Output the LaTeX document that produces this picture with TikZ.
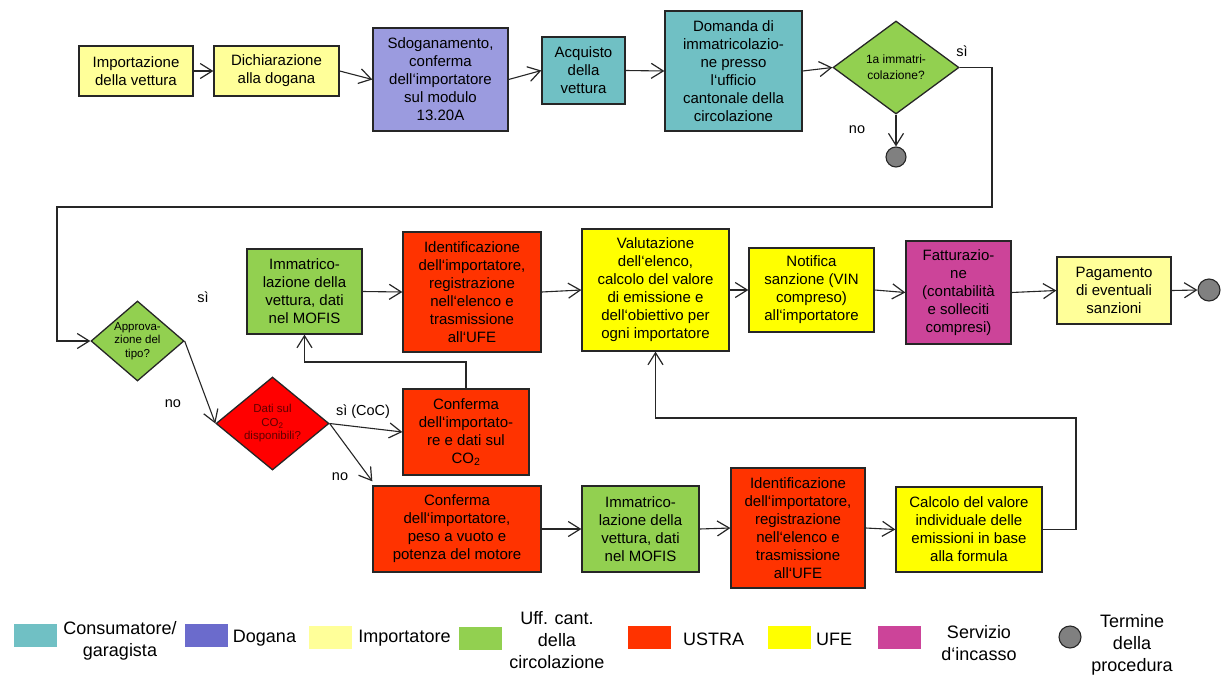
\documentclass[tikz,border=0pt]{standalone}
\usepackage{fontspec}
\setmainfont{Liberation Sans}
\usetikzlibrary{arrows.meta,shapes.geometric}
\definecolor{cLY}{HTML}{FFFF99}
\definecolor{cPU}{HTML}{9B9BDF}
\definecolor{cPUL}{HTML}{6B6BCC}
\definecolor{cTE}{HTML}{70C0C4}
\definecolor{cGR}{HTML}{92D050}
\definecolor{cOR}{HTML}{FF3300}
\definecolor{cRD}{HTML}{FF0000}
\definecolor{cYE}{HTML}{FFFF00}
\definecolor{cMA}{HTML}{CC4499}
\definecolor{cGY}{HTML}{808080}
\definecolor{cLN}{HTML}{262626}
\definecolor{cDT}{HTML}{600000}
\begin{document}
\begin{tikzpicture}[x=1pt,y=-1pt,
 box/.style={draw=cLN, line width=1.3pt, align=center, inner sep=0pt, font=\fontsize{15}{18}\selectfont},
 dia/.style={diamond, draw=cLN, line width=1.3pt, inner sep=0pt},
 dtext/.style={align=center, font=\fontsize{11.5}{13.5}\selectfont},
 arr/.style={-{Straight Barb[length=12pt,width=15pt,line width=1.2pt]}, line width=1.1pt, draw=cLN},
 lab/.style={font=\fontsize{14.5}{17}\selectfont},
 legbox/.style={minimum width=43pt, minimum height=23pt, inner sep=0pt},
 legtxt/.style={align=center, font=\fontsize{18}{22}\selectfont},
 term/.style={circle, draw=cLN, line width=1.1pt, fill=cGY, inner sep=0pt, minimum size=21pt}]
\useasboundingbox (0,0) rectangle (1224,675);

% top row
\node[box, fill=cLY, minimum width=114pt, minimum height=50pt] (imp) at (136,71) {Importazione\\della vettura};
\node[box, fill=cLY, minimum width=125pt, minimum height=50pt] (dich) at (276.5,71) {Dichiarazione\\alla dogana};
\node[box, fill=cPU, minimum width=135pt, minimum height=103pt] (sdog) at (440.5,79.5) {Sdoganamento,\\conferma\\dell‘importatore\\sul modulo\\13.20A};
\node[box, fill=cTE, minimum width=83pt, minimum height=67pt] (acq) at (583.5,70.5) {Acquisto\\della\\vettura};
\node[box, fill=cTE, minimum width=137pt, minimum height=120pt] (dom) at (733.5,71) {Domanda di\\immatricolazio-\\ne presso\\l‘ufficio\\cantonale della\\circolazione};
\node[dia, fill=cGR, minimum width=126pt, minimum height=93pt] (d1) at (896,67.5) {};
\node[align=center, font=\fontsize{12}{16}\selectfont] (d1t) at (d1) {1a immatri-\\colazione?};
\node[term, minimum size=20pt] (end1) at (896,157) {};

% middle row
\node[dia, fill=cGR, minimum width=93pt, minimum height=80pt] (appr) at (137.5,341) {};
\node[dtext] (apprt) at (appr) {Approva-\\zione del\\tipo?};
\node[box, fill=cGR, minimum width=115pt, minimum height=85pt] (imm1) at (304.5,291.5) {Immatrico-\\lazione della\\vettura, dati\\nel MOFIS};
\node[box, fill=cOR, minimum width=138pt, minimum height=120pt] (id1) at (472,292) {Identificazione\\dell‘importatore,\\registrazione\\nell‘elenco e\\trasmissione\\all‘UFE};
\node[box, fill=cYE, minimum width=147pt, minimum height=122pt] (val) at (655.5,290) {Valutazione\\dell‘elenco,\\calcolo del valore\\di emissione e\\dell‘obiettivo per\\ogni importatore};
\node[box, fill=cYE, minimum width=125pt, minimum height=84pt] (notif) at (811.5,290) {Notifica\\sanzione (VIN\\compreso)\\all‘importatore};
\node[box, fill=cMA, minimum width=105pt, minimum height=103pt] (fat) at (958.5,292.5) {Fatturazio-\\ne\\(contabilità\\e solleciti\\compresi)};
\node[box, fill=cLY, minimum width=114pt, minimum height=67pt] (pag) at (1114,290.5) {Pagamento\\di eventuali\\sanzioni};
\node[term, minimum size=22pt] (end2) at (1209,290) {};

% lower rows
\node[dia, fill=cRD, minimum width=113pt, minimum height=93pt] (dati) at (272.5,423.5) {};
\node[dtext, text=cDT] (datit) at (dati) {Dati sul\\CO\textsubscript{2}\\disponibili?};
\node[box, fill=cOR, minimum width=126pt, minimum height=86pt] (cco2) at (466,432) {Conferma\\dell‘importato-\\re e dati sul\\CO\textsubscript{2}};
\node[box, fill=cOR, minimum width=168pt, minimum height=86pt] (cpeso) at (457,529) {Conferma\\dell‘importatore,\\peso a vuoto e\\potenza del motore};
\node[box, fill=cGR, minimum width=117pt, minimum height=86pt] (imm2) at (640.5,529) {Immatrico-\\lazione della\\vettura, dati\\nel MOFIS};
\node[box, fill=cOR, minimum width=134pt, minimum height=120pt] (id2) at (798,528) {Identificazione\\dell‘importatore,\\registrazione\\nell‘elenco e\\trasmissione\\all‘UFE};
\node[box, fill=cYE, minimum width=146pt, minimum height=85pt] (calc) at (969,529.5) {Calcolo del valore\\individuale delle\\emissioni in base\\alla formula};

% labels
\node[lab] (lsi1) at (962,51) {sì};
\node[lab] (lno1) at (857,130) {no};
\node[lab] (lsi2) at (203,297) {sì};
\node[lab] (lno2) at (173,404) {no};
\node[lab] (lsi3) at (363,412) {sì (CoC)};
\node[lab] (lno3) at (340,477) {no};

% connectors
\draw[arr] (imp.east) -- (dich.west);
\draw[arr] (dich.east) -- (sdog.west);
\draw[arr] (sdog.east) -- (acq.west);
\draw[arr] (acq.east) -- (dom.west);
\draw[arr] (dom.east) -- (d1.west);
\draw[arr] (d1.south) -- (end1.north);
\coordinate (k1) at (992,207);
\coordinate (k2) at (57,207);
\draw[arr] (d1.east) -| (k1) -- (k2) |- (appr.west);
\draw[arr] (appr.east) -- (dati.west);
\draw[arr] (dati.east) -- (cco2.west);
\draw[arr] (dati.east) -- ([yshift=4pt]cpeso.north west);
\coordinate (k3) at (466,362);
\draw[arr] (cco2.north) -- (k3) -| (imm1.south);
\draw[arr] (imm1.east) -- (id1.west);
\draw[arr] (id1.east) -- (val.west);
\draw[arr] (val.east) -- (notif.west);
\draw[arr] (notif.east) -- (fat.west);
\draw[arr] (fat.east) -- (pag.west);
\draw[arr] (pag.east) -- (end2.west);
\draw[arr] (cpeso.east) -- (imm2.west);
\draw[arr] (imm2.east) -- (id2.west);
\draw[arr] (id2.east) -- (calc.west);
\coordinate (k4) at (1076,418);
\draw[arr] (calc.east) -| (k4) -| (val.south);

% legend
\node[legbox, fill=cTE] (lg1) at (35.5,635.5) {};
\node[legtxt] (lt1) at (120,641) {Consumatore/\\garagista};
\node[legbox, fill=cPUL] (lg2) at (206,635.5) {};
\node[legtxt] (lt2) at (264.5,638) {Dogana};
\node[legbox, fill=cLY] (lg3) at (330,637) {};
\node[legtxt] (lt3) at (404.5,638) {Importatore};
\node[legbox, fill=cGR] (lg4) at (480,638.5) {};
\node[legtxt] (lt4) at (557,640) {Uff. cant.\\della\\circolazione};
\node[legbox, fill=cOR] (lg5) at (649,637.5) {};
\node[legtxt] (lt5) at (713.5,639) {USTRA};
\node[legbox, fill=cYE] (lg6) at (789,637.5) {};
\node[legtxt] (lt6) at (834,639) {UFE};
\node[legbox, fill=cMA] (lg7) at (899,637.5) {};
\node[legtxt] (lt7) at (979,643) {Servizio\\d‘incasso};
\node[term, minimum size=22pt] (lg8) at (1070,637) {};
\node[legtxt] (lt8) at (1132,645) {Termine\\della\\procedura};
\end{tikzpicture}
\end{document}
